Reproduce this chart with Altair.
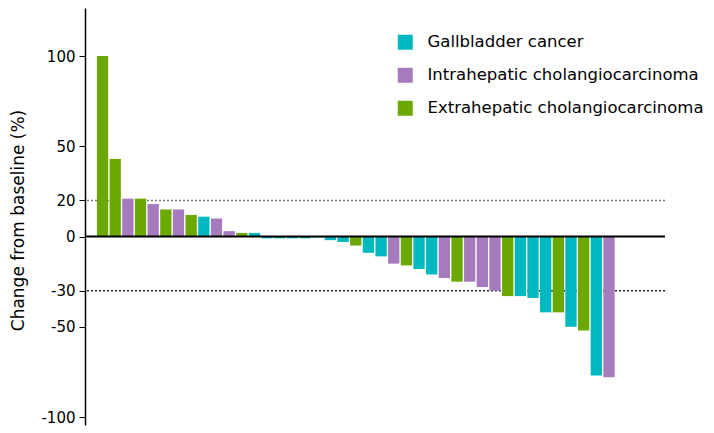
import altair as alt
import pandas as pd

# Percent change from baseline, sorted (waterfall)
values = [100, 43, 21, 21, 18, 15, 15, 12, 11, 10,
          3, 2, 2, -1, -1, -1, -1, -0.6, -2, -3,
          -5, -9, -11, -15, -16, -18, -21, -23, -25, -25,
          -28, -30, -33, -33, -34, -42, -42, -50, -52, -77,
          -78]
codes = ["E", "E", "I", "E", "I", "E", "I", "E", "G", "I",
         "I", "E", "G", "G", "G", "G", "G", "G", "G", "G",
         "E", "G", "G", "I", "E", "G", "G", "I", "E", "I",
         "I", "I", "E", "G", "G", "G", "E", "G", "E", "G",
         "I"]
names = {"G": "Gallbladder cancer",
         "I": "Intrahepatic cholangiocarcinoma",
         "E": "Extrahepatic cholangiocarcinoma"}
categories = ["Gallbladder cancer", "Intrahepatic cholangiocarcinoma", "Extrahepatic cholangiocarcinoma"]
colors = ["#00B8BF", "#A67BBD", "#6BA902"]
y_ticks = [100, 50, 20, 0, -30, -50, -100]
ref_lines = [20, -30]

FONT = "DejaVu Sans"

df = pd.DataFrame({
    "idx": list(range(len(values))),
    "change": values,
    "type": [names[c] for c in codes],
})

xscale = alt.Scale(domain=[-0.99, 44.03], nice=False, zero=False)
yscale = alt.Scale(domain=[-104.4, 126.6], nice=False, zero=False)

bars = alt.Chart(df).mark_bar(size=11.3).encode(
    x=alt.X("idx:Q", scale=xscale, axis=None),
    y=alt.Y("change:Q", scale=yscale,
            axis=alt.Axis(values=y_ticks, grid=False, title="Change from baseline (%)",
                          labelExpr="'' + datum.value",
                          labelFont=FONT, labelFontSize=15, labelColor="#000000",
                          labelPadding=4, tickSize=6, tickColor="#000000", tickWidth=1,
                          domainColor="#000000", domainWidth=1.5,
                          titleFont=FONT, titleFontSize=17, titleFontWeight="normal",
                          titleColor="#000000", titleX=-58, titleY=212,
                          titleAngle=270, titleAlign="center", titleBaseline="bottom")),
    color=alt.Color("type:N", scale=alt.Scale(domain=categories, range=colors),
                    legend=alt.Legend(title=None, orient="none", legendX=312, legendY=26,
                                      symbolType="square", symbolSize=225,
                                      symbolStrokeWidth=0, symbolOpacity=1,
                                      labelFont=FONT, labelFontSize=16.5, labelLimit=0,
                                      labelColor="#000000", labelOffset=14,
                                      rowPadding=16, padding=0)),
)

refs = pd.DataFrame({"y": ref_lines, "c": ["#777777", "#222222"]})
dotted = alt.Chart(refs).mark_rule(strokeDash=[2, 2], strokeWidth=1.5).encode(
    y=alt.Y("y:Q", scale=yscale),
    color=alt.Color("c:N", scale=None),
)

zero = alt.Chart(pd.DataFrame({"y": [0]})).mark_rule(color="#000000", strokeWidth=2).encode(
    y=alt.Y("y:Q", scale=yscale)
)

chart = alt.layer(dotted, bars, zero).properties(
    width=580, height=417,
    background="#ffffff",
    autosize=alt.AutoSizeParams(type="none"),
    padding={"left": 77, "top": 0, "right": 40, "bottom": 10},
).configure_view(stroke=None, strokeWidth=0)

chart.save("out.html", embed_options={"renderer": "svg", "actions": False})
